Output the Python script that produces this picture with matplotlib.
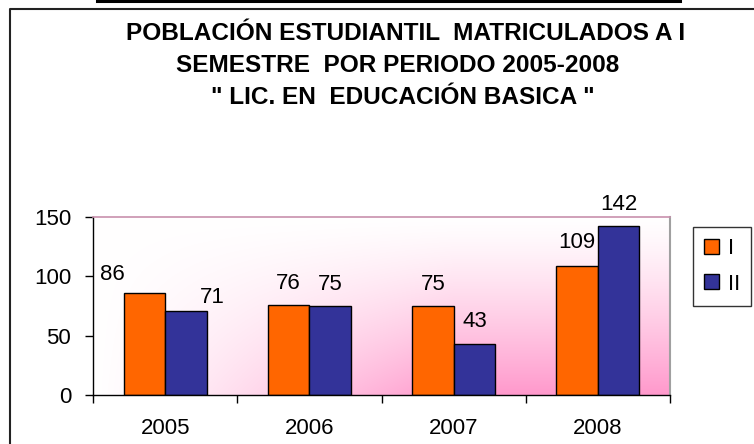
import numpy as np
import matplotlib
matplotlib.use("Agg")
import matplotlib.pyplot as plt
from matplotlib.lines import Line2D

# --- data ---
years = ["2005", "2006", "2007", "2008"]
sem_i = [86, 76, 75, 109]
sem_ii = [71, 75, 43, 142]
series_names = ["I", "II"]
title_lines = [
    "POBLACIÓN ESTUDIANTIL  MATRICULADOS A I",
    "SEMESTRE  POR PERIODO 2005-2008",
    "\" LIC. EN  EDUCACIÓN BASICA \"",
]
y_ticks = [0, 50, 100, 150]

plt.rcParams["font.family"] = ["Liberation Sans", "DejaVu Sans"]

W, H = 754, 444
fig = plt.figure(figsize=(W / 100, H / 100), dpi=100)
fig.patch.set_facecolor("white")


def px(x, y):
    # pixel (top-left origin) -> figure fraction
    return x / W, 1 - y / H


# outer frame and top bar
fig.add_artist(Line2D([9.5 / W, 9.5 / W, 1.0], [0.0, 1 - 9.5 / H, 1 - 9.5 / H],
                      transform=fig.transFigure, color="#222222", lw=1.5))
fig.add_artist(Line2D([97 / W, 680 / W], [1 - 1.2 / H, 1 - 1.2 / H],
                      transform=fig.transFigure, color="black", lw=2.2))

# title
title_pos = [(406, 33.5), (398, 65.5), (403, 98)]
for line, (tx, ty) in zip(title_lines, title_pos):
    fig.text(*px(tx, ty), line, ha="center", va="center",
             fontsize=17.6, fontweight="bold", color="black")

# axes
left, right, top, bottom = 93, 670, 217, 395
ax = fig.add_axes([left / W, 1 - bottom / H, (right - left) / W, (bottom - top) / H])
ax.set_xlim(-0.5, 3.5)
ax.set_ylim(0, 150)

# pink gradient background
u = np.linspace(0, 1, 300)[None, :]
v = np.linspace(1, 0, 200)[:, None]
w = (1 - v) ** 1.3 * np.minimum(1, u * 1.6) ** 1.2
w = np.clip(w, 0, 1)
c0 = np.array([1.0, 1.0, 1.0])
c1 = np.array([1.0, 0.60, 0.80])
img = c0[None, None, :] * (1 - w[..., None]) + c1[None, None, :] * w[..., None]
ax.imshow(img, extent=(-0.5, 3.5, 0, 150), aspect="auto", zorder=0,
          interpolation="bilinear")

x = np.arange(len(years))
bw = 0.288
b1 = ax.bar(x - bw, sem_i, width=bw, align="edge", color="#FF6600",
            edgecolor="black", lw=1.0, zorder=2, label=series_names[0])
b2 = ax.bar(x, sem_ii, width=bw, align="edge", color="#333399",
            edgecolor="black", lw=1.0, zorder=2, label=series_names[1])

# data labels (2005 labels sit off-centre in the original)
nudges_i = [(-32, 18), (0, 21), (0, 22), (0, 23)]
nudges_ii = [(26, 13), (0, 21), (0, 22), (0, 22)]
for bars, vals, nudges in [(b1, sem_i, nudges_i), (b2, sem_ii, nudges_ii)]:
    for rect, val, (dx, dy) in zip(bars, vals, nudges):
        ax.annotate(str(val), (rect.get_x() + rect.get_width() / 2, val),
                    xytext=(dx, dy), textcoords="offset pixels",
                    ha="center", va="center", fontsize=16, zorder=3)

# spines
for s in ["left", "bottom"]:
    ax.spines[s].set_color("black")
    ax.spines[s].set_linewidth(1.0)
ax.spines["top"].set_color("#c890ad")
ax.spines["right"].set_color("#a0a0a0")
ax.spines["top"].set_linewidth(1.2)
ax.spines["right"].set_linewidth(1.5)

ax.set_yticks(y_ticks)
ax.set_yticklabels([str(t) for t in y_ticks])
ax.tick_params(axis="y", length=5.8, width=1, pad=10, labelsize=16, direction="out")

ax.set_xticks(np.arange(-0.5, 4.0, 1.0))
ax.set_xticklabels([])
ax.set_xticks(x, minor=True)
ax.set_xticklabels(years, minor=True)
ax.tick_params(axis="x", which="major", length=5.8, width=1, direction="out")
ax.tick_params(axis="x", which="minor", length=0, pad=16.5, labelsize=16)

# legend
leg = fig.legend(handles=[b1, b2], loc="upper left",
                 bbox_to_anchor=px(693, 227), frameon=True, fancybox=False,
                 fontsize=16, handlelength=0.68, handleheight=0.68,
                 handletextpad=0.4, labelspacing=0.65, borderpad=0.5,
                 borderaxespad=0.0)
leg.get_frame().set_edgecolor("black")
leg.get_frame().set_linewidth(1.0)

fig.savefig("out.png", dpi=100)
